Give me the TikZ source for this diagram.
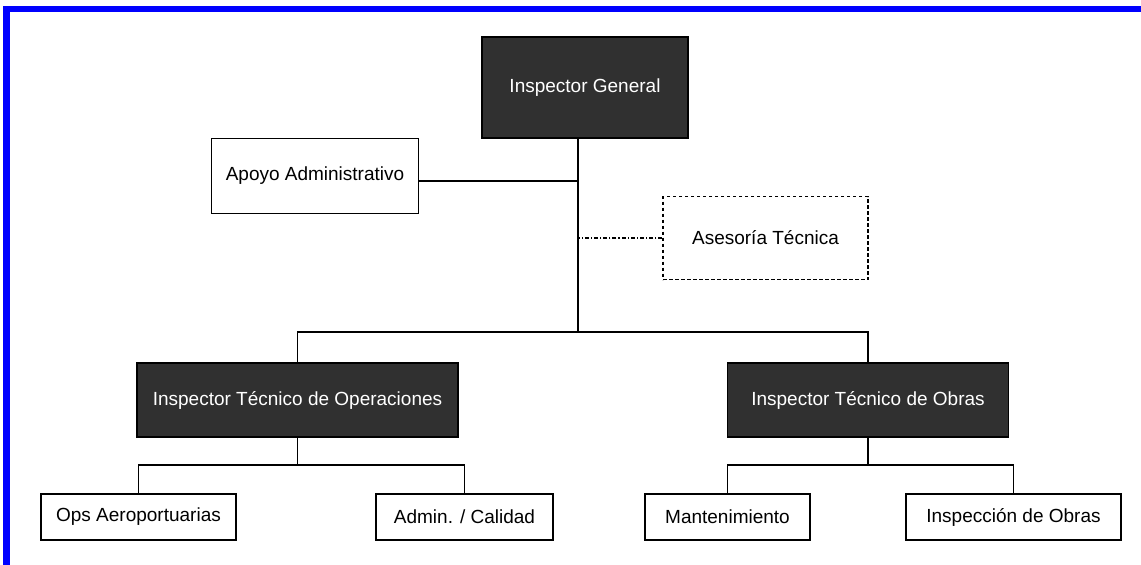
\documentclass[tikz,border=0pt]{standalone}
\usepackage{fontspec}
\setmainfont{Liberation Sans}
\begin{document}
\begin{tikzpicture}[x=1pt,y=-1pt,
    boxfont/.style={font=\fontsize{19}{21}\selectfont},
    chief/.style={boxfont,draw=black,line width=1.6pt,fill=black!81,text=white,inner sep=0pt},
    unit/.style={boxfont,draw=black,line width=1.4pt,fill=white,inner sep=0pt},
    advisory/.style={unit,dashed,dash pattern=on 3.5pt off 2.5pt},
    link/.style={line width=1.5pt}]

    % Frame of the page
    \useasboundingbox (0,0) rectangle (1141,565);
    \fill[blue] (3,6) rectangle (1141,12);
    \fill[blue] (3,6) rectangle (10,565);

    % Head of the organisation
    \node[chief, minimum width=206, minimum height=101] (ig) at (585,87.5) {Inspector General};

    % Staff units
    \node[unit, minimum width=207, minimum height=75] (apoyo) at (315,176) {Apoyo Administrativo};
    \node[advisory, minimum width=205, minimum height=83] (asesoria) at (765.5,238) {Asesoría Técnica};

    % Technical inspectors
    \node[chief, minimum width=321, minimum height=74] (iop) at (297.5,400) {Inspector Técnico de Operaciones};
    \node[chief, minimum width=281, minimum height=74] (iob) at (868,400) {Inspector Técnico de Obras};

    % Departments
    \node[unit, minimum width=195, minimum height=46] (ops) at (138.5,517) {Ops Aeroportuarias};
    \node[unit, minimum width=177, minimum height=46] (adm) at (464.5,517) {Admin. / Calidad};
    \node[unit, minimum width=165, minimum height=46] (mant) at (727.5,517) {Mantenimiento};
    \node[unit, minimum width=215, minimum height=46] (insp) at (1013.5,517) {Inspección de Obras};

    % Junction points of the trunk
    \coordinate (trunk) at (578,332);
    \coordinate (bar) at (0,465);

    % Main trunk and staff links
    \draw[link] (ig.south -| trunk) -- (trunk);
    \draw[link] (apoyo.east |- 0,181) -- (trunk |- 0,181);
    \draw[link, dash pattern=on 4pt off 2pt on 1.2pt off 2pt] (asesoria.west) -- (asesoria.west -| trunk);

    % Branch to the technical inspectors
    \draw[link] (iop.north) |- (trunk) -| (iob.north);

    % Branches to the departments
    \draw[link] (iop.south) -- (iop.south |- bar);
    \draw[link] (ops.north) |- (adm.north |- bar) -- (adm.north);
    \draw[link] (iob.south) -- (iob.south |- bar);
    \draw[link] (mant.north) |- (insp.north |- bar) -- (insp.north);

\end{tikzpicture}
\end{document}
